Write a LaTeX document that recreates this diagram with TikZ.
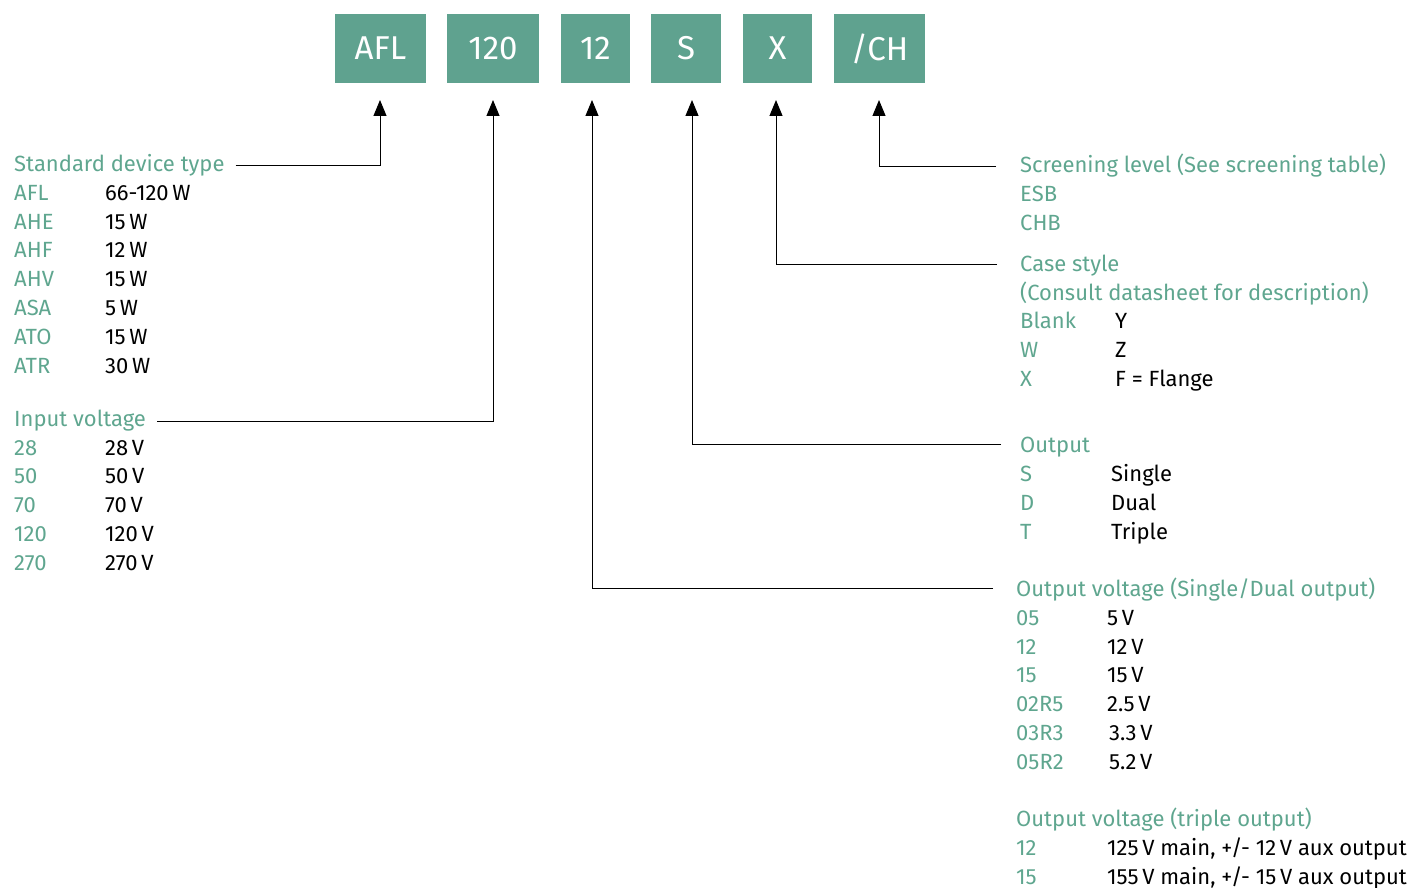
\documentclass[tikz,border=0pt]{standalone}
\usepackage{fontspec}
\setmainfont{Fira Sans}
\usetikzlibrary{arrows.meta}
\definecolor{boxgreen}{RGB}{95,162,143}
\definecolor{labelgreen}{RGB}{95,166,143}
\begin{document}
\begin{tikzpicture}[x=1pt,y=-1pt,
  codebox/.style={fill=boxgreen, text=white, minimum height=69pt, inner sep=0pt, font=\fontsize{33}{38}\selectfont},
  txt/.style={anchor=base west, inner sep=0pt, text height=15pt, text depth=3pt, font=\fontsize{22}{26}\selectfont},
  head/.style={txt, text=labelgreen},
  key/.style={txt, text=labelgreen},
  val/.style={txt, text=black},
  conn/.style={draw=black, line width=1pt, -{Triangle[width=13pt,length=16pt]}}
]
\useasboundingbox (0,0) rectangle (1418,888);

% code boxes
\node[codebox, minimum width=91pt] (bAFL) at (380.5,48.5) {AFL};
\node[codebox, minimum width=92pt] (b120) at (493,48.5) {120};
\node[codebox, minimum width=69pt] (b12) at (595.5,48.5) {12};
\node[codebox, minimum width=70pt] (bS) at (686,48.5) {S};
\node[codebox, minimum width=69pt] (bX) at (777.5,48.5) {X};
\node[codebox, minimum width=91pt] (bCH) at (879.5,48.5) {/CH};

% arrow tips below the boxes
\coordinate (tAFL) at (380,100);
\coordinate (t120) at (493,100);
\coordinate (t12) at (592,100);
\coordinate (tS) at (692,100);
\coordinate (tX) at (776,100);
\coordinate (tCH) at (879,100);

% Standard device type
\node[head] (hStd) at (14,171.5) {Standard device type};
\node[key] (k1) at (14,200) {AFL};  \node[val] (v1) at (105,200) {66-120\,W};
\node[key] (k2) at (14,229) {AHE};  \node[val] (v2) at (105,229) {15\,W};
\node[key] (k3) at (14,257) {AHF};  \node[val] (v3) at (105,257) {12\,W};
\node[key] (k4) at (14,286) {AHV};  \node[val] (v4) at (105,286) {15\,W};
\node[key] (k5) at (14,315) {ASA};  \node[val] (v5) at (105,315) {5\,W};
\node[key] (k6) at (14,344) {ATO};  \node[val] (v6) at (105,344) {15\,W};
\node[key] (k7) at (14,373) {ATR};  \node[val] (v7) at (105,373) {30\,W};

% Input voltage
\node[head] (hIn) at (14,426) {Input voltage};
\node[key] (i1) at (14,455) {28};   \node[val] (iv1) at (105,455) {28\,V};
\node[key] (i2) at (14,483) {50};   \node[val] (iv2) at (105,483) {50\,V};
\node[key] (i3) at (14,512) {70};   \node[val] (iv3) at (105,512) {70\,V};
\node[key] (i4) at (14,541) {120};  \node[val] (iv4) at (105,541) {120\,V};
\node[key] (i5) at (14,570) {270};  \node[val] (iv5) at (105,570) {270\,V};

% Screening level
\node[head] (hScr) at (1020,172) {Screening level (See screening table)};
\node[key] (s1) at (1020,201) {ESB};
\node[key] (s2) at (1020,230) {CHB};

% Case style
\node[head] (hCase) at (1020,271) {Case style};
\node[key] (c0) at (1020,300) {(Consult datasheet for description)};
\node[key] (c1) at (1020,328) {Blank}; \node[val] (cv1) at (1115,328) {Y};
\node[key] (c2) at (1020,357) {W};     \node[val] (cv2) at (1115,357) {Z};
\node[key] (c3) at (1020,386) {X};     \node[val] (cv3) at (1115,386) {F = Flange};

% Output
\node[head] (hOut) at (1020,452) {Output};
\node[key] (o1) at (1020,481) {S}; \node[val] (ov1) at (1111,481) {Single};
\node[key] (o2) at (1020,510) {D}; \node[val] (ov2) at (1111,510) {Dual};
\node[key] (o3) at (1020,539) {T}; \node[val] (ov3) at (1111,539) {Triple};

% Output voltage
\node[head] (hOV) at (1016,596) {Output voltage (Single/Dual output)};
\node[key] (u1) at (1016,625) {05};    \node[val] (uv1) at (1107,625) {5\,V};
\node[key] (u2) at (1016,654) {12};    \node[val] (uv2) at (1107,654) {12\,V};
\node[key] (u3) at (1016,682) {15};    \node[val] (uv3) at (1107,682) {15\,V};
\node[key] (u4) at (1016,711) {02R5};  \node[val] (uv4) at (1107,711) {2.5\,V};
\node[key] (u5) at (1016,740) {03R3};  \node[val] (uv5) at (1109,740) {3.3\,V};
\node[key] (u6) at (1016,769) {05R2};  \node[val] (uv6) at (1109,769) {5.2\,V};

\node[head] (hTr) at (1016,826) {Output voltage (triple output)};
\node[key] (w1) at (1016,855) {12}; \node[val] (wv1) at (1107,855) {125\,V main, +/- 12\,V aux output};
\node[key] (w2) at (1016,884) {15}; \node[val] (wv2) at (1107,884) {155\,V main, +/- 15\,V aux output};

% connectors
\draw[conn] ([xshift=11pt]hStd.east) -| (tAFL);
\draw[conn] ([xshift=11pt,yshift=-1pt]hIn.east) -| (t120);
\draw[conn] ([xshift=-24pt]hScr.west) -| (tCH);
\draw[conn] ([xshift=-23pt,yshift=1pt]hCase.west) -| (tX);
\draw[conn] ([xshift=-19pt,yshift=2pt]hOut.west) -| (tS);
\draw[conn] ([xshift=-23pt,yshift=2pt]hOV.west) -| (t12);
\end{tikzpicture}
\end{document}
